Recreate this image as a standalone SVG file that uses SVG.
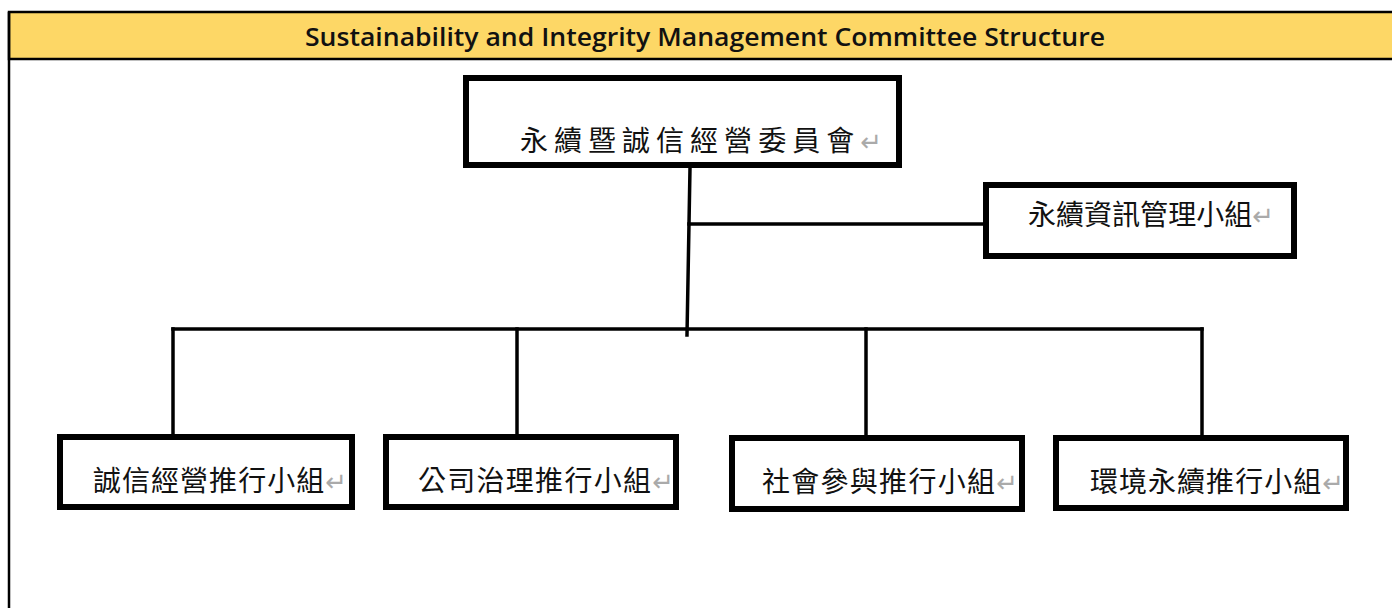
<svg xmlns="http://www.w3.org/2000/svg" width="1392" height="608" viewBox="0 0 1392 608">
<style>
.box{fill:#fff;stroke:#000;stroke-width:6}
.lbl{font-family:"Noto Sans CJK TC","Noto Sans CJK SC",sans-serif;font-size:28px;fill:#111}
.pm{fill:#aaa;font-family:"DejaVu Sans",sans-serif;font-size:26px}
.conn{stroke:#000;stroke-width:3.5;fill:none;stroke-linecap:square}
.title{font-family:"Open Sans","Liberation Sans",sans-serif;font-weight:600;font-size:26px;fill:#111}
</style>
<rect x="0" y="0" width="1392" height="608" fill="#fff"/>
<g id="frame">
<rect x="9" y="12" width="1390" height="47" fill="#FDD766" stroke="#000" stroke-width="2.5"/>
<line x1="9" y1="12" x2="9" y2="608" stroke="#000" stroke-width="2.5"/>
<text class="title" x="705" y="46" text-anchor="middle" textLength="800" lengthAdjust="spacingAndGlyphs">Sustainability and Integrity Management Committee Structure</text>
</g>
<g id="connectors">
<polyline class="conn" points="690,168 687,335"/>
<line class="conn" x1="689" y1="224" x2="985" y2="224"/>
<line class="conn" x1="173" y1="329" x2="1202" y2="329"/>
<line class="conn" x1="173" y1="329" x2="173" y2="434"/>
<line class="conn" x1="517" y1="329" x2="517" y2="434"/>
<line class="conn" x1="866" y1="329" x2="866" y2="435"/>
<line class="conn" x1="1202" y1="329" x2="1202" y2="435"/>
</g>
<g id="committee">
<rect class="box" x="466" y="78" width="433" height="87"/>
<text class="lbl" x="520" y="151" textLength="362" lengthAdjust="spacing">永續暨誠信經營委員會<tspan class="pm">↵</tspan></text>
</g>
<g id="info-group">
<rect class="box" x="986" y="185" width="308" height="71"/>
<text class="lbl" x="1028" y="225" textLength="246" lengthAdjust="spacing">永續資訊管理小組<tspan class="pm">↵</tspan></text>
</g>
<g id="integrity-group">
<rect class="box" x="60" y="437" width="292" height="70"/>
<text class="lbl" x="93" y="491" textLength="254" lengthAdjust="spacing">誠信經營推行小組<tspan class="pm">↵</tspan></text>
</g>
<g id="governance-group">
<rect class="box" x="386" y="437" width="290" height="70"/>
<text class="lbl" x="418" y="491" textLength="256" lengthAdjust="spacing">公司治理推行小組<tspan class="pm">↵</tspan></text>
</g>
<g id="social-group">
<rect class="box" x="732" y="438" width="290" height="71"/>
<text class="lbl" x="762" y="492" textLength="256" lengthAdjust="spacing">社會參與推行小組<tspan class="pm">↵</tspan></text>
</g>
<g id="environment-group">
<rect class="box" x="1056" y="438" width="290" height="70"/>
<text class="lbl" x="1090" y="492" textLength="254" lengthAdjust="spacing">環境永續推行小組<tspan class="pm">↵</tspan></text>
</g>
</svg>
